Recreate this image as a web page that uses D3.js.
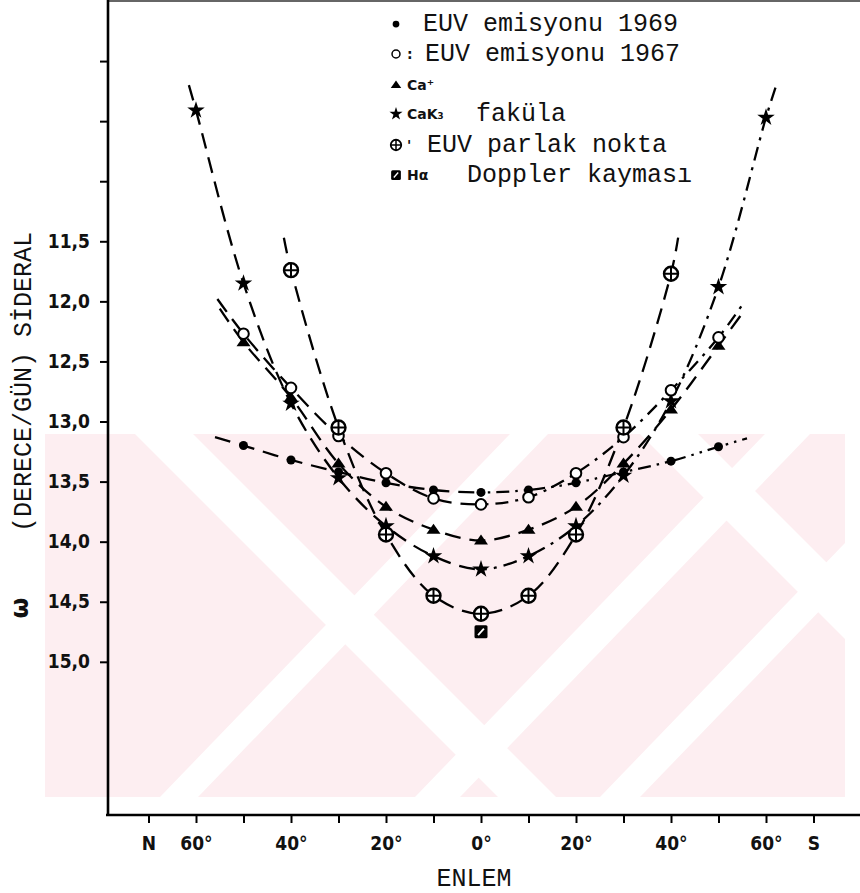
<!DOCTYPE html>
<html>
<head>
<meta charset="utf-8">
<script src="https://cdn.jsdelivr.net/npm/d3@7"></script>
<style>
  body { margin: 0; background: #fff; }
  svg { display: block; }
</style>
</head>
<body>
<div id="chart"></div>
<script>
// Latitude (degrees, N negative / S positive) and angular speed values
const euv69Lat = [-50, -40, -30, -20, -10, 0, 10, 20, 30, 40, 50];
const euv69Val = [13.20, 13.32, 13.42, 13.51, 13.57, 13.59, 13.57, 13.51, 13.42, 13.33, 13.21];
const euv69Ends = [[-56, 13.13], [56, 13.14]];

const euv67Lat = [-50, -40, -30, -20, -10, 0, 10, 20, 30, 40, 50];
const euv67Val = [12.27, 12.72, 13.12, 13.43, 13.64, 13.69, 13.63, 13.43, 13.13, 12.74, 12.30];
const euv67Ends = [[-55.5, 11.98], [55.5, 12.0]];

const caLat = [-50, -40, -30, -20, -10, 0, 10, 20, 30, 40, 50];
const caVal = [12.34, 12.80, 13.35, 13.71, 13.90, 13.99, 13.90, 13.71, 13.35, 12.90, 12.37];
const caEnds = [[-55, 12.06], [55, 12.1]];

const cakLat = [-60, -50, -40, -30, -20, -10, 0, 10, 20, 30, 40, 50, 60];
const cakVal = [10.41, 11.85, 12.85, 13.47, 13.87, 14.12, 14.23, 14.12, 13.87, 13.45, 12.83, 11.88, 10.47];
const cakEnds = [[-61.5, 10.2], [62, 10.22]];

const euvpLat = [-40, -30, -20, -10, 0, 10, 20, 30, 40];
const euvpVal = [11.74, 13.05, 13.94, 14.45, 14.60, 14.45, 13.94, 13.05, 11.77];
const euvpEnds = [[-41.5, 11.47], [41.5, 11.47]];

const dopLat = [0];
const dopVal = [14.75];

const xTicks = [-70, -60, -50, -40, -30, -20, -10, 0, 10, 20, 30, 40, 50, 60, 70];
const xTickLabels = { "-70": "N", "-60": "60°", "-40": "40°", "-20": "20°", "0": "0°", "20": "20°", "40": "40°", "60": "60°", "70": "S" };
const yTicks = [10.0, 10.5, 11.0, 11.5, 12.0, 12.5, 13.0, 13.5, 14.0, 14.5, 15.0];
const yLabelled = [11.5, 12.0, 12.5, 13.0, 13.5, 14.0, 14.5, 15.0];

const W = 860, H = 893;
const svg = d3.select("#chart").append("svg").attr("width", W).attr("height", H);

const x = d3.scaleLinear().domain([-70, 70]).range([148.5, 813.5]);
const y = d3.scaleLinear().domain([9.5, 16.275]).range([1, 815]);

// pale pink watermark behind the plot
const wm = svg.append("g");
wm.append("clipPath").attr("id", "wmclip")
  .append("rect").attr("x", 45).attr("y", 434).attr("width", 800).attr("height", 363);
const wmg = wm.append("g").attr("clip-path", "url(#wmclip)");
wmg.append("rect").attr("x", 45).attr("y", 434).attr("width", 800).attr("height", 363).attr("fill", "#fdeef1");
const slashBands = [[160, 38], [415, 45], [600, 40]];
const backBands = [[135, 58], [640, 58]];
slashBands.forEach(([b, w]) => {
  wmg.append("polygon").attr("fill", "#fff")
    .attr("points", `${b},797 ${b + w},797 ${b + w + 350},434 ${b + 350},434`);
});
backBands.forEach(([t, w]) => {
  wmg.append("polygon").attr("fill", "#fff")
    .attr("points", `${t},434 ${t + w},434 ${t + w + 363},797 ${t + 363},797`);
});

// frame lines
svg.append("line").attr("x1", 108).attr("x2", 860).attr("y1", 1).attr("y2", 1)
  .attr("stroke", "#333").attr("stroke-width", 1.5);
svg.append("line").attr("x1", 106).attr("x2", 860).attr("y1", 815).attr("y2", 815)
  .attr("stroke", "#000").attr("stroke-width", 2.6);
svg.append("line").attr("x1", 108).attr("x2", 108).attr("y1", 0).attr("y2", 816)
  .attr("stroke", "#000").attr("stroke-width", 2.6);

const tickFont = "'DejaVu Sans Condensed', 'DejaVu Sans', sans-serif";

// y axis
const yAxis = svg.append("g").attr("transform", "translate(108,0)")
  .call(d3.axisLeft(y).tickValues(yTicks).tickSize(8).tickSizeOuter(0)
    .tickFormat(d => yLabelled.includes(d) ? d.toFixed(1).replace(".", ",") : ""));
yAxis.select(".domain").remove();
yAxis.selectAll(".tick line").attr("stroke", "#000").attr("stroke-width", 2);
yAxis.selectAll(".tick text").attr("x", -18).attr("font-family", tickFont)
  .attr("font-size", 19).attr("font-weight", "bold").attr("fill", "#111");

// x axis
const xAxis = svg.append("g").attr("transform", "translate(0,815)")
  .call(d3.axisBottom(x).tickValues(xTicks).tickSize(8).tickSizeOuter(0)
    .tickFormat(d => xTickLabels[d] || ""));
xAxis.select(".domain").remove();
xAxis.selectAll(".tick line").attr("stroke", "#000").attr("stroke-width", 2);
xAxis.selectAll(".tick text").attr("y", 22).attr("font-family", tickFont)
  .attr("font-size", 19).attr("font-weight", "bold").attr("fill", "#111");

// axis titles
const mono = "'Liberation Mono', 'DejaVu Sans Mono', monospace";
svg.append("text").attr("transform", "translate(31,382) rotate(-90)")
  .attr("text-anchor", "middle").attr("font-family", mono).attr("font-size", 25)
  .attr("fill", "#111").text("(DERECE/GÜN) SİDERAL");
svg.append("text").attr("x", 20).attr("y", 616).attr("text-anchor", "middle")
  .attr("font-family", "'DejaVu Sans', sans-serif").attr("font-weight", "bold")
  .attr("font-size", 24).attr("transform", "rotate(-90,20,608)").attr("fill", "#111").text("ω");
svg.append("text").attr("x", 474).attr("y", 886).attr("text-anchor", "middle")
  .attr("font-family", mono).attr("font-size", 25).attr("fill", "#111").text("ENLEM");

// clip halves so right side of some curves can use a different dash
svg.append("clipPath").attr("id", "leftHalf").append("rect")
  .attr("x", 0).attr("y", 0).attr("width", x(0)).attr("height", 815);
svg.append("clipPath").attr("id", "rightHalf").append("rect")
  .attr("x", x(0)).attr("y", 0).attr("width", W - x(0)).attr("height", 815);

const line = d3.line().x(d => x(d[0])).y(d => y(d[1])).curve(d3.curveCatmullRom.alpha(0.5));
const DASH = "16,9";

function curve(lats, vals, ends, rightDash) {
  const pts = [ends[0], ...lats.map((l, i) => [l, vals[i]]), ends[1]];
  svg.append("path").datum(pts).attr("d", line).attr("fill", "none")
    .attr("stroke", "#000").attr("stroke-width", 2.3)
    .attr("stroke-dasharray", DASH).attr("clip-path", "url(#leftHalf)");
  svg.append("path").datum(pts).attr("d", line).attr("fill", "none")
    .attr("stroke", "#000").attr("stroke-width", 2.3)
    .attr("stroke-dasharray", rightDash || DASH).attr("clip-path", "url(#rightHalf)");
}

curve(euv69Lat, euv69Val, euv69Ends, "13,6,2.5,6,2.5,6");
curve(euv67Lat, euv67Val, euv67Ends, "13,7,3,7");
curve(caLat, caVal, caEnds);
curve(cakLat, cakVal, cakEnds, "14,7,3,7");
curve(euvpLat, euvpVal, euvpEnds);

// marker drawing
function marker(g, type, cx, cy, s) {
  s = s || 1;
  if (type === "dot") {
    g.append("circle").attr("cx", cx).attr("cy", cy).attr("r", 4.5 * s).attr("fill", "#000");
  } else if (type === "open") {
    g.append("circle").attr("cx", cx).attr("cy", cy).attr("r", 5.3 * s)
      .attr("fill", "#fff").attr("stroke", "#000").attr("stroke-width", 2 * s);
  } else if (type === "tri") {
    const w = 7 * s, h = 10 * s;
    g.append("path").attr("d", `M${cx - w},${cy + h * 0.4}L${cx + w},${cy + h * 0.4}L${cx},${cy - h * 0.6}Z`)
      .attr("fill", "#000");
  } else if (type === "star") {
    g.append("path").attr("d", d3.symbol(d3.symbolStar, 95 * s * s)())
      .attr("transform", `translate(${cx},${cy})`).attr("fill", "#000");
  } else if (type === "cplus") {
    const r = 7 * s;
    g.append("circle").attr("cx", cx).attr("cy", cy).attr("r", r)
      .attr("fill", "#fff").attr("stroke", "#000").attr("stroke-width", 2.4 * s);
    g.append("path").attr("d", `M${cx - r},${cy}H${cx + r}M${cx},${cy - r}V${cy + r}`)
      .attr("stroke", "#000").attr("stroke-width", 2 * s);
  } else if (type === "square") {
    const a = 6.5 * s;
    g.append("rect").attr("x", cx - a).attr("y", cy - a).attr("width", 2 * a).attr("height", 2 * a)
      .attr("rx", 1.5).attr("fill", "#000");
    g.append("path").attr("d", `M${cx - a * 0.45},${cy + a * 0.5}L${cx + a * 0.45},${cy - a * 0.5}`)
      .attr("stroke", "#fff").attr("stroke-width", 1.8 * s);
  }
}

const marks = svg.append("g");
function drawSeries(lats, vals, type) {
  lats.forEach((l, i) => marker(marks, type, x(l), y(vals[i])));
}
drawSeries(euv69Lat, euv69Val, "dot");
drawSeries(caLat, caVal, "tri");
drawSeries(cakLat, cakVal, "star");
drawSeries(euv67Lat, euv67Val, "open");
drawSeries(euvpLat, euvpVal, "cplus");
drawSeries(dopLat, dopVal, "square");

// legend
const lg = svg.append("g");
const sans = "'DejaVu Sans', sans-serif";
const legendRows = [
  { type: "dot", y: 24, small: "", text: "EUV emisyonu 1969", tx: 423 },
  { type: "open", y: 54, small: ":", text: "EUV emisyonu 1967", tx: 425 },
  { type: "tri", y: 85, small: "Ca⁺", text: "", tx: 0 },
  { type: "star", y: 114, small: "CaK₃", text: "faküla", tx: 476 },
  { type: "cplus", y: 145, small: "'", text: "EUV parlak nokta", tx: 427 },
  { type: "square", y: 175, small: "Hα", text: "Doppler kayması", tx: 467 }
];
legendRows.forEach(r => {
  marker(lg, r.type, 396, r.y, 0.75);
  if (r.small) {
    lg.append("text").attr("x", 407).attr("y", r.y + 5).attr("font-family", sans)
      .attr("font-weight", "bold").attr("font-size", 14).attr("fill", "#111").text(r.small);
  }
  if (r.text) {
    lg.append("text").attr("x", r.tx).attr("y", r.y + 7).attr("font-family", mono)
      .attr("font-size", 25).attr("fill", "#111").text(r.text);
  }
});
</script>
</body>
</html>
